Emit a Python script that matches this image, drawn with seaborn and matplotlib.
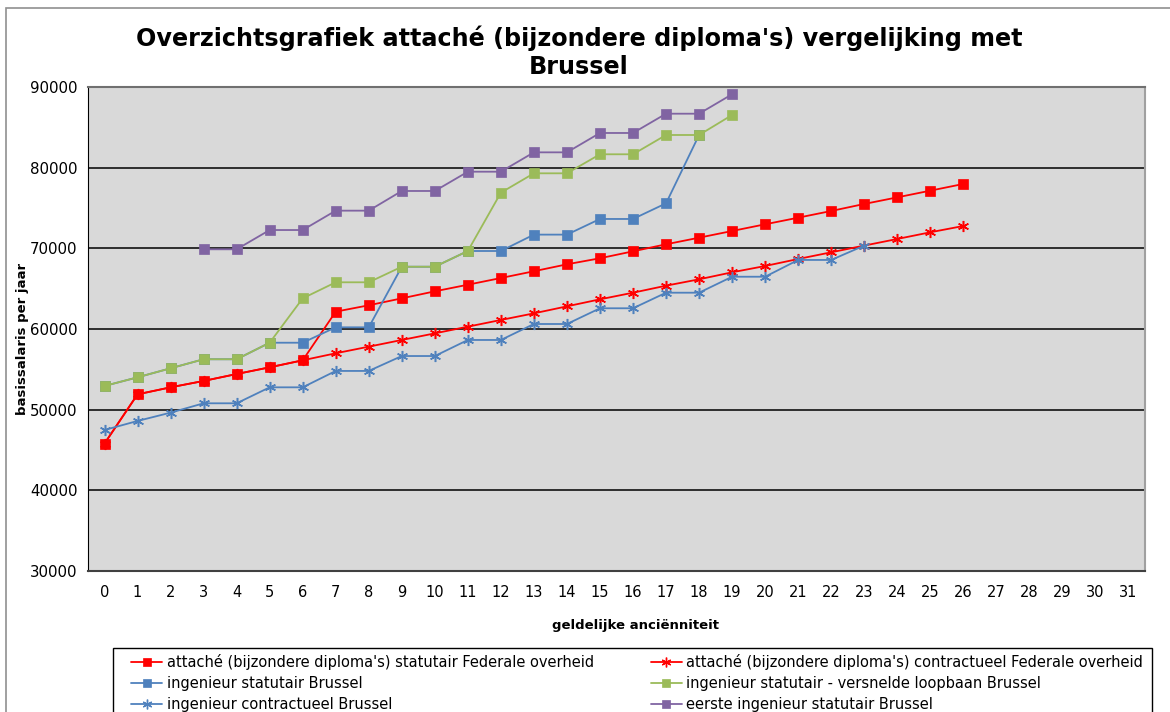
import numpy as np
import pandas as pd
import matplotlib
matplotlib.use("Agg")
import matplotlib.pyplot as plt
from matplotlib.lines import Line2D
from matplotlib.patches import Rectangle
import seaborn as sns

# geldelijke anciënniteit (categories on the x axis)
jaren = list(range(32))

# basissalaris per jaar, per reeks (start jaar + waarden)
attache_stat_start = 0
attache_stat = [45800, 51900, 52770, 53560, 54420, 55250, 56120, 62150, 62940, 63800,
                64670, 65490, 66320, 67160, 68020, 68770, 69630, 70500, 71320, 72150,
                72980, 73800, 74630, 75500, 76320, 77150, 77980]

attache_contr_start = 0
attache_contr = [45800, 51900, 52770, 53560, 54420, 55250, 56120, 56990, 57810, 58640,
                 59460, 60290, 61120, 61940, 62810, 63680, 64500, 65370, 66160, 67030,
                 67810, 68680, 69510, 70340, 71160, 71990, 72770]

ing_stat_start = 0
ing_stat = [52940, 54010, 55130, 56250, 56250, 58300, 58300, 60210, 60210, 67720,
            67720, 69670, 69670, 71700, 71700, 73640, 73640, 75580, 84050]

ing_versneld_start = 0
ing_versneld = [52940, 54010, 55130, 56250, 56250, 58300, 63800, 65790, 65790, 67720,
                67720, 69670, 76900, 79300, 79300, 81660, 81660, 84050, 84050, 86530]

ing_contr_start = 0
ing_contr = [47480, 48600, 49630, 50790, 50790, 52770, 52770, 54800, 54800, 56650,
             56650, 58640, 58640, 60620, 60620, 62570, 62570, 64500, 64500, 66480,
             66480, 68560, 68560, 70340]

eerste_ing_start = 3
eerste_ing = [69880, 69880, 72270, 72270, 74670, 74670, 77110, 77110, 79500, 79500,
              81900, 81900, 84300, 84300, 86690, 86690, 89100]

labels = [
    "attaché (bijzondere diploma's) statutair Federale overheid",
    "attaché (bijzondere diploma's) contractueel Federale overheid",
    "ingenieur statutair Brussel",
    "ingenieur statutair - versnelde loopbaan Brussel",
    "ingenieur contractueel Brussel",
    "eerste ingenieur statutair Brussel",
]

RED = "#FF0000"
BLUE = "#4F81BD"
GREEN = "#9BBB59"
PURPLE = "#8064A2"
STAR = (6, 2, 0)

series = [
    (labels[0], attache_stat_start, attache_stat, RED, "s"),
    (labels[1], attache_contr_start, attache_contr, RED, STAR),
    (labels[2], ing_stat_start, ing_stat, BLUE, "s"),
    (labels[3], ing_versneld_start, ing_versneld, GREEN, "s"),
    (labels[4], ing_contr_start, ing_contr, BLUE, STAR),
    (labels[5], eerste_ing_start, eerste_ing, PURPLE, "s"),
]

sns.set_style("white")
plt.rcParams["font.family"] = ["DejaVu Sans"]
plt.rcParams["text.color"] = "black"
plt.rcParams["xtick.color"] = "black"
plt.rcParams["ytick.color"] = "black"

W, H = 1170, 712
fig = plt.figure(figsize=(W / 100, H / 100), dpi=100)

ax = fig.add_axes([88 / W, 1 - 571 / H, (1145 - 88) / W, (571 - 87) / H])
ax.set_facecolor("#D9D9D9")

handles = {}
for name, start, values, color, marker in series:
    df = pd.DataFrame({"jaar": jaren[start:start + len(values)], "salaris": values})
    star = marker == STAR
    sns.lineplot(
        data=df, x="jaar", y="salaris", ax=ax, color=color, linewidth=1.3,
        marker=marker, markersize=8 if star else 7,
        markeredgecolor=color, markerfacecolor=color,
        markeredgewidth=1.1 if star else 0.5, zorder=3,
    )
    handles[name] = Line2D([], [], color=color, linewidth=1.3, marker=marker,
                           markersize=7 if star else 6, markeredgecolor=color,
                           markerfacecolor=color, markeredgewidth=1.0 if star else 0.5)

ax.set_xlim(-0.5, 31.5)
ax.set_ylim(30000, 90000)
ax.set_yticks(range(30000, 90001, 10000))
ax.set_xticks(jaren)
ax.set_xticks(np.arange(-0.5, 32, 1), minor=True)
ax.tick_params(axis="x", which="major", length=0, pad=10, labelsize=10.5)
ax.tick_params(axis="x", which="minor", length=5, width=1, color="black", direction="out")
ax.tick_params(axis="y", length=6, width=1, color="black", direction="out", labelsize=10.8, pad=1.5)
for v in range(40000, 90000, 10000):
    ax.axhline(v, color="black", linewidth=1.1, zorder=1)
ax.set_xlabel("")
ax.set_ylabel("")
ax.spines["left"].set_color("black")
ax.spines["bottom"].set_color("#404040")
ax.spines["bottom"].set_linewidth(1.5)
ax.spines["top"].set_color("#707070")
ax.spines["top"].set_linewidth(1.5)
ax.spines["right"].set_color("#A0A0A0")
ax.spines["right"].set_linewidth(1.5)

fig.text(579 / W, 1 - 52 / H,
         "Overzichtsgrafiek attaché (bijzondere diploma's) vergelijking met\nBrussel",
         ha="center", va="center", fontsize=17.2, fontweight="bold", linespacing=1.2)
fig.text(23 / W, 1 - 339 / H, "basissalaris per jaar", rotation=90,
         ha="center", va="center", fontsize=9.5, fontweight="bold")
fig.text(636 / W, 1 - 626 / H, "geldelijke anciënniteit",
         ha="center", va="center", fontsize=9.5, fontweight="bold")

# chart area border
fig.add_artist(Rectangle((6 / W, -0.05), 1.1, 1 - 8 / H + 0.05, transform=fig.transFigure,
                         fill=False, edgecolor="#909090", linewidth=1.2))

# legend frame, drawn separately so the entries can sit freely inside it
fig.add_artist(Rectangle((113 / W, -0.05), (1152 - 113) / W, 1 - 648 / H + 0.05,
                         transform=fig.transFigure, fill=False, edgecolor="black",
                         linewidth=1.0))

order = [labels[0], labels[2], labels[4], labels[1], labels[3], labels[5]]
leg = fig.legend(
    [handles[n] for n in order], order, ncol=2, loc="upper left",
    bbox_to_anchor=(131 / W, 1 - 654 / H),
    fontsize=10.5, frameon=False, borderaxespad=0, borderpad=0,
    handlelength=2.15, handletextpad=0.3, labelspacing=0.4, columnspacing=3.9,
)

fig.savefig("out.png", dpi=100)
